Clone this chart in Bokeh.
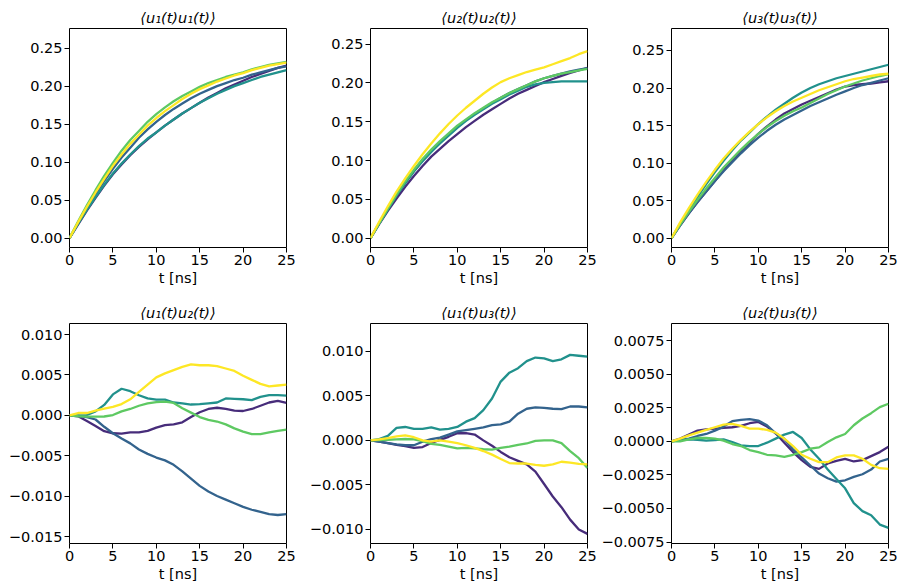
from bokeh.plotting import figure
from bokeh.layouts import gridplot
from bokeh.models import Range1d, FixedTicker, CustomJSTickFormatter
from bokeh.embed import file_html
from bokeh.resources import INLINE

# ---------------- data ----------------
t_ns = list(range(26))
colors = ["#472c7a", "#33638d", "#21918c", "#5ec962", "#fde725"]
x_ticks = [0, 5, 10, 15, 20, 25]
x_label = "t [ns]"
titles = ["⟨u₁(t)u₁(t)⟩", "⟨u₂(t)u₂(t)⟩", "⟨u₃(t)u₃(t)⟩",
          "⟨u₁(t)u₂(t)⟩", "⟨u₁(t)u₃(t)⟩", "⟨u₂(t)u₃(t)⟩"]

# <u1 u1>
u11_purple = [0, 0.018, 0.036, 0.053, 0.069, 0.084, 0.097, 0.109, 0.120, 0.130, 0.139, 0.148, 0.156,
              0.164, 0.171, 0.178, 0.185, 0.191, 0.197, 0.202, 0.207, 0.212, 0.216, 0.220, 0.224, 0.227]
u11_blue = [0, 0.020, 0.040, 0.058, 0.075, 0.091, 0.106, 0.119, 0.132, 0.143, 0.153, 0.162, 0.170,
            0.177, 0.184, 0.190, 0.195, 0.200, 0.204, 0.208, 0.211, 0.215, 0.218, 0.221, 0.224, 0.226]
u11_teal = [0, 0.019, 0.037, 0.054, 0.070, 0.085, 0.098, 0.110, 0.121, 0.131, 0.139, 0.148, 0.156,
            0.164, 0.171, 0.178, 0.184, 0.190, 0.195, 0.200, 0.204, 0.208, 0.212, 0.215, 0.218, 0.221]
u11_green = [0, 0.022, 0.043, 0.063, 0.082, 0.099, 0.115, 0.129, 0.141, 0.153, 0.163, 0.172, 0.180,
             0.187, 0.193, 0.199, 0.204, 0.208, 0.212, 0.215, 0.218, 0.222, 0.225, 0.228, 0.230, 0.232]
u11_yellow = [0, 0.021, 0.041, 0.060, 0.078, 0.095, 0.110, 0.124, 0.136, 0.148, 0.158, 0.167, 0.175,
              0.183, 0.190, 0.196, 0.201, 0.206, 0.210, 0.214, 0.217, 0.221, 0.224, 0.227, 0.229, 0.231]

# <u2 u2>
u22_purple = [0, 0.018, 0.035, 0.051, 0.066, 0.080, 0.093, 0.105, 0.115, 0.125, 0.134, 0.143, 0.151,
              0.159, 0.166, 0.173, 0.180, 0.186, 0.191, 0.196, 0.201, 0.205, 0.209, 0.213, 0.216, 0.2195]
u22_blue = [0, 0.019, 0.037, 0.055, 0.071, 0.086, 0.100, 0.112, 0.123, 0.133, 0.143, 0.152, 0.160,
            0.167, 0.174, 0.181, 0.187, 0.192, 0.197, 0.202, 0.206, 0.209, 0.212, 0.215, 0.217, 0.219]
u22_teal = [0, 0.019, 0.037, 0.055, 0.071, 0.086, 0.099, 0.111, 0.122, 0.132, 0.142, 0.151, 0.159,
            0.166, 0.173, 0.179, 0.185, 0.190, 0.195, 0.198, 0.200, 0.201, 0.202, 0.202, 0.202, 0.202]
u22_green = [0, 0.019, 0.038, 0.056, 0.073, 0.088, 0.102, 0.114, 0.125, 0.135, 0.145, 0.153, 0.161,
             0.168, 0.175, 0.181, 0.187, 0.192, 0.197, 0.202, 0.206, 0.209, 0.212, 0.214, 0.216, 0.218]
u22_yellow = [0, 0.021, 0.041, 0.060, 0.077, 0.093, 0.108, 0.122, 0.135, 0.147, 0.158, 0.168, 0.177,
              0.186, 0.194, 0.201, 0.206, 0.210, 0.214, 0.217, 0.220, 0.224, 0.228, 0.232, 0.237, 0.241]

# <u3 u3>
u33_purple = [0, 0.017, 0.033, 0.048, 0.062, 0.076, 0.090, 0.103, 0.115, 0.127, 0.139, 0.149, 0.158,
              0.166, 0.172, 0.178, 0.183, 0.188, 0.193, 0.198, 0.202, 0.204, 0.205, 0.206, 0.2075, 0.209]
u33_blue = [0, 0.017, 0.033, 0.048, 0.062, 0.076, 0.089, 0.101, 0.113, 0.124, 0.134, 0.143, 0.151,
            0.158, 0.164, 0.170, 0.176, 0.181, 0.186, 0.191, 0.1955, 0.200, 0.204, 0.207, 0.210, 0.213]
u33_teal = [0, 0.019, 0.037, 0.055, 0.072, 0.088, 0.103, 0.117, 0.130, 0.141, 0.152, 0.162, 0.171,
            0.179, 0.187, 0.194, 0.200, 0.205, 0.209, 0.213, 0.216, 0.219, 0.222, 0.225, 0.228, 0.231]
u33_green = [0, 0.018, 0.035, 0.051, 0.066, 0.080, 0.094, 0.106, 0.118, 0.129, 0.139, 0.148, 0.156,
             0.163, 0.169, 0.174, 0.180, 0.186, 0.192, 0.197, 0.202, 0.206, 0.210, 0.213, 0.216, 0.2185]
u33_yellow = [0, 0.021, 0.040, 0.058, 0.075, 0.091, 0.106, 0.119, 0.131, 0.142, 0.152, 0.161, 0.169,
              0.176, 0.182, 0.187, 0.192, 0.197, 0.201, 0.205, 0.209, 0.212, 0.214, 0.216, 0.218, 0.219]

# cross terms, in units of 1e-3
u12_purple = [0, -0.1, -0.7, -1.3, -1.95, -2.2, -2.25, -2.1, -2.1, -1.9, -1.5, -1.2, -1.1,
              -0.85, -0.2, 0.4, 0.8, 0.95, 0.8, 0.6, 0.55, 0.8, 1.2, 1.6, 1.8, 1.55]
u12_blue = [0, -0.05, -0.2, -0.5, -1.4, -2.2, -2.85, -3.45, -4.2, -4.75, -5.2, -5.55, -6.1,
            -6.9, -7.8, -8.7, -9.4, -9.95, -10.4, -10.85, -11.3, -11.65, -11.9, -12.2, -12.3, -12.2]
u12_teal = [0, 0, 0.05, 0.5, 1.3, 2.6, 3.3, 3.0, 2.5, 2.1, 1.95, 1.95, 1.6,
            1.5, 1.35, 1.4, 1.5, 1.6, 2.1, 2.05, 2.0, 1.9, 2.3, 2.5, 2.5, 2.45]
u12_green = [0, -0.1, -0.15, -0.15, -0.13, 0.05, 0.5, 0.8, 1.2, 1.5, 1.65, 1.7, 1.55,
             0.9, 0.35, -0.2, -0.55, -0.75, -1.1, -1.6, -2.0, -2.3, -2.3, -2.1, -1.9, -1.75]
u12_yellow = [0, 0.3, 0.3, 0.6, 0.85, 1.05, 1.4, 2.0, 2.9, 3.8, 4.7, 5.2, 5.6,
              6.0, 6.3, 6.2, 6.2, 6.1, 5.8, 5.5, 4.9, 4.4, 3.9, 3.6, 3.7, 3.8]

u13_purple = [0, -0.15, -0.3, -0.5, -0.65, -0.85, -0.75, -0.3, 0.05, 0.4, 0.8, 0.8, 0.65,
              0.0, -0.6, -1.3, -1.9, -2.3, -2.7, -3.5, -4.9, -6.3, -7.5, -8.9, -10.0, -10.5]
u13_blue = [0, -0.15, -0.3, -0.45, -0.55, -0.55, -0.15, 0.15, 0.3, 0.65, 1.0, 1.15, 1.3,
            1.45, 1.7, 1.8, 2.1, 3.0, 3.55, 3.7, 3.65, 3.55, 3.5, 3.8, 3.8, 3.7]
u13_teal = [0, 0.15, 0.5, 1.4, 1.5, 1.3, 1.3, 1.45, 1.2, 1.3, 1.5, 2.1, 2.5,
            3.4, 4.7, 6.6, 7.6, 8.1, 8.9, 9.3, 9.2, 8.9, 9.1, 9.6, 9.5, 9.4]
u13_green = [0, 0.02, 0.07, 0.12, 0.15, 0.12, -0.1, -0.4, -0.5, -0.7, -0.9, -0.85, -0.9,
             -1.0, -1.05, -0.85, -0.7, -0.5, -0.35, -0.05, 0.0, 0.0, -0.3, -1.2, -2.0, -3.1]
u13_yellow = [0, 0.1, 0.25, 0.45, 0.55, 0.35, 0.0, -0.15, 0.0, -0.15, -0.3, -0.55, -0.85,
              -1.2, -1.6, -2.1, -2.55, -2.6, -2.6, -2.75, -2.85, -2.7, -2.4, -2.5, -2.65, -2.7]

u23_purple = [0, 0.2, 0.5, 0.8, 0.9, 0.95, 1.0, 1.05, 1.15, 1.35, 1.45, 1.1, 0.6,
              -0.1, -0.8, -1.4, -1.9, -2.05, -1.65, -1.45, -1.3, -1.5, -1.4, -1.1, -0.8, -0.4]
u23_blue = [0, 0.1, 0.2, 0.4, 0.55, 0.8, 1.1, 1.5, 1.6, 1.65, 1.55, 1.2, 0.6,
            0.2, -0.6, -1.2, -1.8, -2.4, -2.75, -3.0, -2.9, -2.65, -2.45, -2.1, -1.5, -1.3]
u23_teal = [0, 0.1, 0.15, 0.12, 0.05, 0.1, 0.15, -0.05, -0.3, -0.35, -0.35, -0.1, 0.2,
            0.5, 0.7, 0.25, -0.6, -1.3, -2.1, -2.8, -3.5, -4.6, -5.2, -5.5, -6.2, -6.45]
u23_green = [0, 0.0, 0.15, 0.25, 0.25, 0.2, 0.05, -0.2, -0.35, -0.65, -0.8, -1.0, -1.05,
             -1.15, -1.0, -0.8, -0.55, -0.45, -0.05, 0.3, 0.55, 1.2, 1.7, 2.1, 2.55, 2.8]
u23_yellow = [0, 0.2, 0.45, 0.65, 0.85, 1.05, 1.25, 1.3, 1.15, 0.95, 0.95, 0.85, 0.65,
              0.2, -0.35, -1.0, -1.3, -1.55, -1.55, -1.2, -1.05, -1.05, -1.3, -1.75, -2.0, -2.05]

# ---------------- layout / style ----------------
col_w = [301, 297, 300]
left_b = [69, 69, 73]
right_b = [15, 11, 10]
row_h = [296, 289]
top_b = [28, 27]
bot_b = [49, 42]
FONT = "DejaVu Sans"
TICK_FS = "14.5px"

panels = [
    (titles[0], [u11_purple, u11_blue, u11_teal, u11_green, u11_yellow], 1.0,
     (-0.0124, 0.2758), [0, 0.05, 0.10, 0.15, 0.20, 0.25], 2),
    (titles[1], [u22_purple, u22_blue, u22_teal, u22_green, u22_yellow], 1.0,
     (-0.0121, 0.2701), [0, 0.05, 0.10, 0.15, 0.20, 0.25], 2),
    (titles[2], [u33_purple, u33_blue, u33_teal, u33_green, u33_yellow], 1.0,
     (-0.0125, 0.2793), [0, 0.05, 0.10, 0.15, 0.20, 0.25], 2),
    (titles[3], [u12_purple, u12_blue, u12_teal, u12_green, u12_yellow], 1e-3,
     (-0.01582, 0.01136), [-0.015, -0.010, -0.005, 0, 0.005, 0.010], 3),
    (titles[4], [u13_purple, u13_blue, u13_teal, u13_green, u13_yellow], 1e-3,
     (-0.01158, 0.01312), [-0.010, -0.005, 0, 0.005, 0.010], 3),
    (titles[5], [u23_purple, u23_blue, u23_teal, u23_green, u23_yellow], 1e-3,
     (-0.00761, 0.00878), [-0.0075, -0.005, -0.0025, 0, 0.0025, 0.005, 0.0075], 4),
]

figs = []
for i, (title, series, scale, yr, yt, dec) in enumerate(panels):
    r, c = divmod(i, 3)
    p = figure(width=col_w[c], height=row_h[r], output_backend="svg", toolbar_location=None,
               x_range=Range1d(0, 25), y_range=Range1d(*yr), title=title,
               min_border_left=left_b[c], min_border_right=right_b[c],
               min_border_top=top_b[r], min_border_bottom=bot_b[r])
    for s, col in zip(series, colors):
        p.line(t_ns, [v * scale for v in s], line_color=col, line_width=2.3)
    p.title.text_font = FONT
    p.title.text_font_size = "14.5px"
    p.title.text_font_style = "italic"
    p.title.align = "center"
    p.title.text_color = "black"
    p.title.standoff = 6
    p.grid.visible = False
    p.outline_line_color = "black"
    p.outline_line_width = 1
    p.outline_line_alpha = 1
    p.xaxis.ticker = FixedTicker(ticks=x_ticks)
    p.yaxis.ticker = FixedTicker(ticks=yt)
    p.yaxis.formatter = CustomJSTickFormatter(
        code="return tick.toFixed(%d).replace('-', '\u2212');" % dec)
    p.xaxis.axis_label = x_label
    for ax in (p.xaxis[0], p.yaxis[0]):
        ax.axis_line_color = None
        ax.major_tick_in = 0
        ax.major_tick_out = 5
        ax.major_tick_line_color = "black"
        ax.minor_tick_line_color = None
        ax.major_label_text_font = FONT
        ax.major_label_text_font_size = TICK_FS
        ax.major_label_text_color = "black"
        ax.major_label_standoff = 2
        ax.axis_label_text_font = FONT
        ax.axis_label_text_font_size = TICK_FS
        ax.axis_label_text_font_style = "normal"
        ax.axis_label_text_color = "black"
        ax.axis_label_standoff = 2
    figs.append(p)

grid = gridplot([figs[0:3], figs[3:6]], toolbar_location=None)
open("out.html", "w").write(file_html(grid, INLINE))
